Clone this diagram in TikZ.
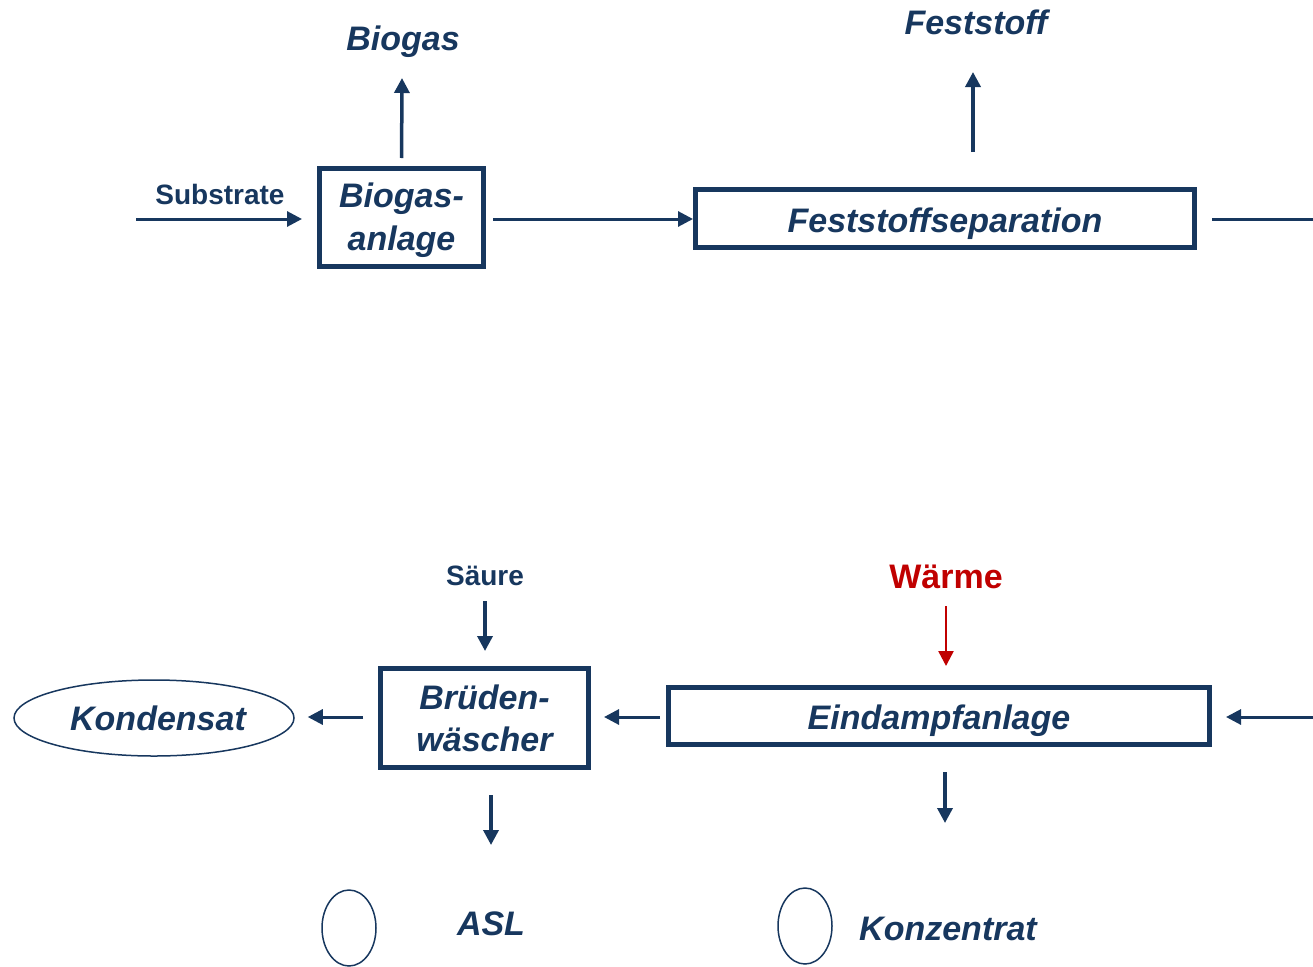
\documentclass[tikz,border=0pt]{standalone}
\usepackage{fontspec}
\setmainfont{Liberation Sans}
\usetikzlibrary{arrows.meta,shapes.geometric}
\definecolor{navy}{HTML}{17375E}
\definecolor{wred}{HTML}{C00000}
\newcommand{\lowerby}[2]{\raisebox{-#1}[\height][\depth]{#2}}
\begin{document}
\begin{tikzpicture}[x=1pt,y=-1pt,
  box/.style={draw=navy,line width=5pt,inner sep=0pt,text=navy,align=center,
    font=\fontsize{34}{42}\selectfont\bfseries\itshape},
  lbl/.style={text=navy,inner sep=0pt,font=\fontsize{34}{40}\selectfont\bfseries\itshape},
  smalllbl/.style={text=navy,inner sep=0pt,font=\fontsize{28}{32}\selectfont\bfseries},
  oval/.style={ellipse,draw=navy,line width=1.5pt,inner sep=0pt},
  arr/.style={draw=navy,line width=3.5pt,-{Triangle[length=15pt,width=15pt]}},
  redarr/.style={draw=wred,line width=2.5pt,-{Triangle[length=15pt,width=15pt]}},
  plainline/.style={draw=navy,line width=3.5pt},
]
\useasboundingbox (0,0) rectangle (1313,966);

% boxes
\node[box,minimum width=164pt,minimum height=98pt] (bio) at (401.5,217.5) {\lowerby{3pt}{\shortstack{Biogas-\\[8pt]anlage}}};
\node[box,minimum width=499pt,minimum height=58pt] (fest) at (945,218.5) {\lowerby{5pt}{Feststoffseparation}};
\node[box,minimum width=541pt,minimum height=57pt] (eind) at (939,716) {\lowerby{5pt}{Eindampfanlage}};
\node[box,minimum width=208pt,minimum height=99pt] (brue) at (484.5,718) {Brüden-\\wäscher};

% ellipses
\node[oval,minimum width=280pt,minimum height=76pt,text=navy,
  font=\fontsize{34}{40}\selectfont\bfseries\itshape] (kond) at (154,718) {\hspace*{8pt}Kondensat};
\node[oval,minimum width=54pt,minimum height=76pt] (aslov) at (349,928) {};
\node[oval,minimum width=54pt,minimum height=76pt] (konzov) at (805,926) {};

% labels
\node[lbl] (biogas) at (403,38) {\lowerby{4pt}{Biogas}};
\node[lbl] (feststoff) at (976,22) {Feststoff};
\node[smalllbl] (substrate) at (220,194) {Substrate};
\node[smalllbl] (saeure) at (485,576) {Säure};
\node[lbl,text=wred,font=\fontsize{34}{40}\selectfont\bfseries] (waerme) at (946,577) {Wärme};
\node[lbl] (asl) at (491,924) {ASL};
\node[lbl] (konz) at (948,929) {Konzentrat};

% coordinates
\coordinate (s0) at (136,219);
\coordinate (bgtip) at (402,78);
\coordinate (f0) at (973,152);
\coordinate (f1) at (973,72);
\coordinate (fout) at (1313,219);
\coordinate (ein) at (1313,717);
\coordinate (sa0) at (485,601);
\coordinate (wa0) at (946,606);
\coordinate (edown) at (945,823);
\coordinate (bdown) at (491,845);

% connectors
\draw[arr,line width=3pt,shorten >=15pt] (s0) -- (s0 -| bio.west);
\draw[arr,shorten <=8pt] (bio.north |- 0,166) -- (bgtip);
\draw[arr,line width=3pt,shorten <=7pt] (bio.east |- 0,219) -- (fest.west |- 0,219);
\draw[arr] (f0) -- (f1);
\draw[plainline,line width=3pt,shorten <=15pt] (fest.east |- fout) -- (fout);
\draw[arr,line width=3pt,shorten >=14pt] (ein) -- (ein -| eind.east);
\draw[redarr,shorten >=19pt] (wa0) -- (wa0 |- eind.north);
\draw[arr,shorten <=25pt] (eind.south -| edown) -- (edown);
\draw[arr,line width=3pt,shorten <=6pt,shorten >=13pt] (eind.west |- 0,717) -- (brue.east |- 0,717);
\draw[arr,shorten >=15pt] (sa0) -- (sa0 |- brue.north);
\draw[arr,line width=3pt,shorten <=15pt,shorten >=13pt] (brue.west |- 0,717) -- (kond.east |- 0,717);
\draw[arr,shorten <=25pt] (brue.south -| bdown) -- (bdown);
\end{tikzpicture}
\end{document}
